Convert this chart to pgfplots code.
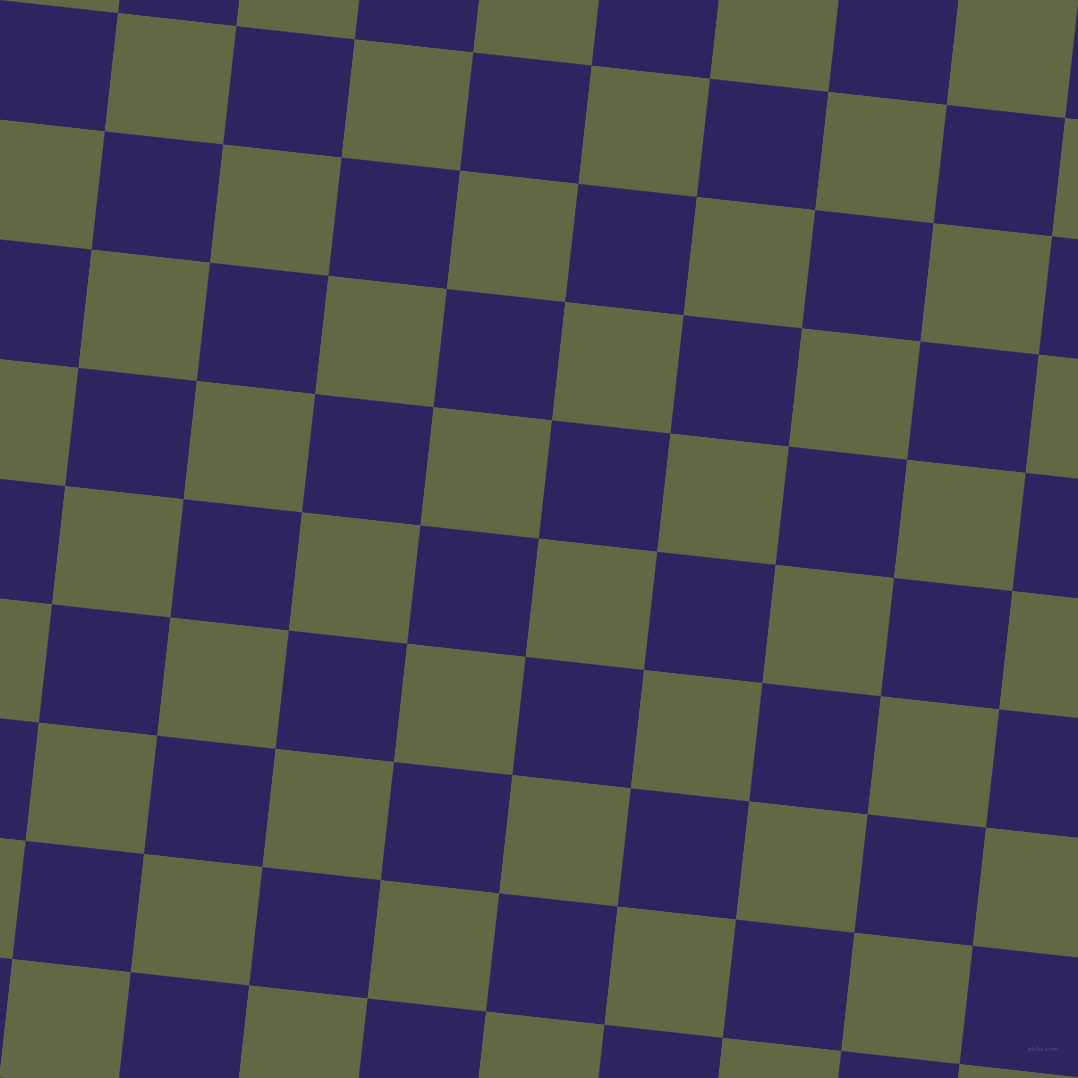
\documentclass[border=0pt]{standalone}
\usepackage{pgfplots}
\usepackage{pgfplotstable}
\pgfplotsset{compat=1.18}
\definecolor{navyc}{RGB}{46,36,96}
\definecolor{olivec}{RGB}{98,104,68}

% lattice corners of the tilted board (pixel units, y pointing down), c = cell colour
\pgfplotstableread{
x y c
-105.4 -131.2 1
13.0 -118.1 0
131.4 -105.0 1
249.8 -91.8 0
368.2 -78.7 1
486.6 -65.6 0
605.0 -52.4 1
723.4 -39.3 0
841.8 -26.2 1
960.2 -13.0 0
1078.6 0.1 1
1197.0 13.2 0
1315.4 26.4 1

-118.6 -13.0 0
-0.2 0.2 1
118.2 13.3 0
236.6 26.4 1
355.0 39.6 0
473.4 52.7 1
591.8 65.8 0
710.2 79.0 1
828.6 92.1 0
947.0 105.2 1
1065.4 118.3 0
1183.8 131.5 1
1302.2 144.6 0

-131.8 105.3 1
-13.4 118.4 0
105.0 131.6 1
223.4 144.7 0
341.8 157.8 1
460.2 170.9 0
578.6 184.1 1
697.0 197.2 0
815.4 210.3 1
933.8 223.5 0
1052.2 236.6 1
1170.6 249.7 0
1289.0 262.9 1

-145.0 223.5 0
-26.6 236.7 1
91.8 249.8 0
210.2 262.9 1
328.6 276.1 0
447.0 289.2 1
565.4 302.3 0
683.8 315.5 1
802.2 328.6 0
920.6 341.7 1
1039.0 354.8 0
1157.4 368.0 1
1275.8 381.1 0

-158.2 341.8 1
-39.8 354.9 0
78.6 368.1 1
197.0 381.2 0
315.4 394.3 1
433.8 407.4 0
552.2 420.6 1
670.6 433.7 0
789.0 446.8 1
907.4 460.0 0
1025.8 473.1 1
1144.2 486.2 0
1262.6 499.4 1

-171.4 460.0 0
-53.0 473.2 1
65.4 486.3 0
183.8 499.4 1
302.2 512.6 0
420.6 525.7 1
539.0 538.8 0
657.4 552.0 1
775.8 565.1 0
894.2 578.2 1
1012.6 591.3 0
1131.0 604.5 1
1249.4 617.6 0

-184.6 578.3 1
-66.2 591.4 0
52.2 604.6 1
170.6 617.7 0
289.0 630.8 1
407.4 643.9 0
525.8 657.1 1
644.2 670.2 0
762.6 683.3 1
881.0 696.5 0
999.4 709.6 1
1117.8 722.7 0
1236.2 735.9 1

-197.8 696.5 0
-79.4 709.7 1
39.0 722.8 0
157.4 735.9 1
275.8 749.1 0
394.2 762.2 1
512.6 775.3 0
631.0 788.5 1
749.4 801.6 0
867.8 814.7 1
986.2 827.8 0
1104.6 841.0 1
1223.0 854.1 0

-211.0 814.8 1
-92.6 827.9 0
25.8 841.1 1
144.2 854.2 0
262.6 867.3 1
381.0 880.4 0
499.4 893.6 1
617.8 906.7 0
736.2 919.8 1
854.6 933.0 0
973.0 946.1 1
1091.4 959.2 0
1209.8 972.4 1

-224.2 933.0 0
-105.8 946.2 1
12.6 959.3 0
131.0 972.4 1
249.4 985.6 0
367.8 998.7 1
486.2 1011.8 0
604.6 1025.0 1
723.0 1038.1 0
841.4 1051.2 1
959.8 1064.3 0
1078.2 1077.5 1
1196.6 1090.6 0

-237.4 1051.3 1
-119.0 1064.4 0
-0.6 1077.6 1
117.8 1090.7 0
236.2 1103.8 1
354.6 1116.9 0
473.0 1130.1 1
591.4 1143.2 0
709.8 1156.3 1
828.2 1169.5 0
946.6 1182.6 1
1065.0 1195.7 0
1183.4 1208.9 1

-250.6 1169.5 0
-132.2 1182.7 1
-13.8 1195.8 0
104.6 1208.9 1
223.0 1222.1 0
341.4 1235.2 1
459.8 1248.3 0
578.2 1261.5 1
696.6 1274.6 0
815.0 1287.7 1
933.4 1300.8 0
1051.8 1314.0 1
1170.2 1327.1 0
}\board

\begin{document}
\begin{tikzpicture}
\begin{axis}[
    scale only axis,
    width=1078pt, height=1078pt,
    xmin=0, xmax=1078, ymin=0, ymax=1078,
    y dir=reverse,
    hide axis,
    colormap={board}{rgb255(0)=(98,104,68) rgb255(1)=(46,36,96)},
    point meta min=0, point meta max=1,
]
\addplot[surf, shader=flat corner, mesh/cols=13, point meta=explicit]
    table[x=x, y=y, meta=c] {\board};
\node[text=navyc!80!white, font=\sffamily\fontsize{7}{8}\selectfont]
    at (axis cs:1043,1050) {pixlis.com};
\end{axis}
\pgfresetboundingbox
\path (current axis.south west) rectangle (current axis.north east);
\end{tikzpicture}
\end{document}
